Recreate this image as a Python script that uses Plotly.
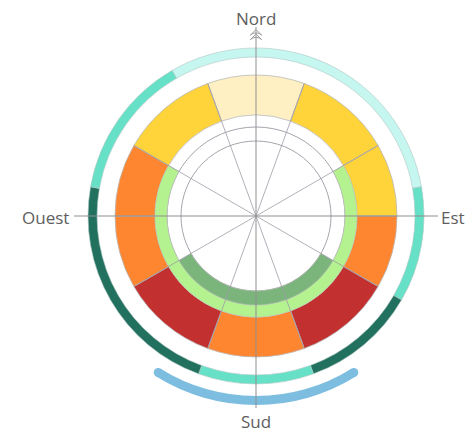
import plotly.graph_objects as go

# couronne colorée : secteurs (degrés, sens horaire depuis le nord)
secteur_debut = [340, 20, 60, 90, 120, 160, 200, 240, 270, 300]
secteur_fin = [20, 60, 90, 120, 160, 200, 240, 270, 300, 340]
secteur_couleur = ['#FFF0C4', '#FFD43B', '#FFD43B', '#FF8630', '#C2312F',
                   '#FF8630', '#C2312F', '#FF8630', '#FF8630', '#FFD43B']

# anneaux verts intérieurs
vert_debut = [60, 120]
vert_fin = [300, 240]
vert_couleur = ['#B3F28F', '#7BB57B']

# anneau extérieur
anneau_debut = [330, 80, 120, 160, 200, 280]
anneau_fin = [80, 120, 160, 200, 280, 330]
anneau_couleur = ['#C6F6F0', '#66E0C7', '#22705E', '#66E0C7', '#22705E', '#66E0C7']

# arc bleu au sud
arc_debut, arc_fin = 148, 212

# rayons et cercles de la grille
rayons_angles = [20, 60, 120, 160, 200, 240, 300, 340]
grille_cercles = [75, 89]

# points cardinaux
directions = ['Nord', 'Est', 'Sud', 'Ouest']
direction_angle = [0, 90, 180, 270]

# la page ajoute une marge de 8 px : figure un peu plus petite que la fenêtre
W, H = 465, 424
CX, CY = 248, 208  # centre du cadran, en px depuis le coin haut-gauche de la figure


def secteurs(debut, fin):
    largeurs = [(f - d) % 360 for d, f in zip(debut, fin)]
    centres = [(d + w / 2) % 360 for d, w in zip(debut, largeurs)]
    return centres, largeurs


fig = go.Figure()

# couronne colorée
c, w = secteurs(secteur_debut, secteur_fin)
fig.add_trace(go.Barpolar(theta=c, width=w, base=[101] * len(c), r=[40] * len(c),
                          marker=dict(color=secteur_couleur, line=dict(color='#b8b8b8', width=0.8)),
                          hoverinfo='skip'))

# anneau vert clair (89-101) puis vert foncé (75-89)
c, w = secteurs(vert_debut, vert_fin)
fig.add_trace(go.Barpolar(theta=c, width=w, base=[89, 75], r=[12, 14],
                          marker=dict(color=vert_couleur, line=dict(color='#c0c0c0', width=0.5)),
                          hoverinfo='skip'))

# anneau extérieur
c, w = secteurs(anneau_debut, anneau_fin)
fig.add_trace(go.Barpolar(theta=c, width=w, base=[159] * len(c), r=[9] * len(c),
                          marker=dict(color=anneau_couleur, line=dict(color='#b0c8c4', width=0.6)),
                          hoverinfo='skip'))

# arc bleu avec extrémités arrondies
c, w = secteurs([arc_debut], [arc_fin])
fig.add_trace(go.Barpolar(theta=c, width=w, base=[180], r=[9],
                          marker=dict(color='#7DBDE0', line=dict(width=0)),
                          hoverinfo='skip'))
fig.add_trace(go.Scatterpolar(theta=[arc_debut, arc_fin], r=[184.5, 184.5], mode='markers',
                              marker=dict(color='#7DBDE0', size=9, line=dict(width=0)),
                              hoverinfo='skip'))

# rayons
for a in rayons_angles:
    fig.add_trace(go.Scatterpolar(theta=[a, a], r=[0, 141], mode='lines',
                                  line=dict(color='#a09ca8', width=0.8), hoverinfo='skip'))

# axes cardinaux
for a, longueur in zip(direction_angle, [189, 182, 192, 182]):
    fig.add_trace(go.Scatterpolar(theta=[a, a], r=[0, longueur], mode='lines',
                                  line=dict(color='#8f8f8f', width=1), hoverinfo='skip'))

# flèche du nord
fig.add_trace(go.Scatterpolar(theta=[0, 0], r=[182, 186.5], mode='markers',
                              marker=dict(symbol='arrow-wide-open', size=8, color='#a0a0a0',
                                          line=dict(color='#a0a0a0', width=1)),
                              hoverinfo='skip'))

# étiquettes (px figure)
positions = {'Nord': (CX, 11, 'center'), 'Est': (CX + 184, CY + 1, 'left'),
             'Sud': (CX, 413, 'center'), 'Ouest': (CX - 186, CY + 1, 'right')}
for nom in directions:
    x, y, xa = positions[nom]
    fig.add_annotation(x=x / W, y=1 - y / H, xref='paper', yref='paper', text=nom,
                       showarrow=False, xanchor=xa, yanchor='middle', borderpad=0,
                       font=dict(family='Open Sans, sans-serif', size=17, color='#5e5e5e'))

fig.update_layout(
    width=W, height=H,
    margin=dict(l=0, r=0, t=0, b=0),
    paper_bgcolor='white',
    showlegend=False,
    polar=dict(
        domain=dict(x=[(CX - 200) / W, (CX + 200) / W],
                    y=[(H - CY - 200) / H, (H - CY + 200) / H]),
        bgcolor='white',
        bargap=0,
        radialaxis=dict(range=[0, 200], tickvals=grille_cercles, showticklabels=False,
                        ticks='', showline=False, showgrid=True, gridcolor='#a7a4ad', gridwidth=0.8),
        angularaxis=dict(direction='clockwise', rotation=90, showgrid=False,
                         showticklabels=False, ticks='', showline=False),
    ),
)

fig.write_html("out.html")
